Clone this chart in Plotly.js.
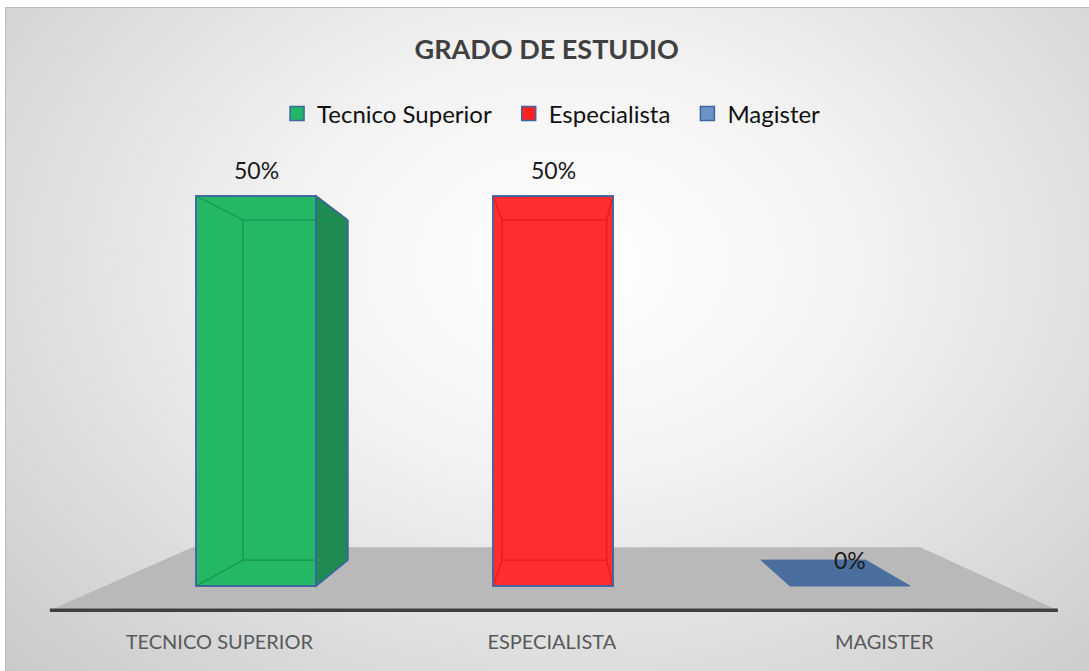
<!DOCTYPE html>
<html>
<head>
<meta charset="utf-8">
<script src="https://cdn.plot.ly/plotly-3.0.1.min.js"></script>
<style>
  html, body { margin:0; padding:0; background:#ffffff; width:1089px; height:671px; overflow:hidden; }
  #bg { position:absolute; left:5px; top:7px; width:1090px; height:670px;
        border-left:1px solid #bdbdbd; border-top:1px solid #bdbdbd;
        background: radial-gradient(ellipse farthest-corner at 52% 38%, #ffffff 0%, #f3f3f3 35%, #c9c9c9 100%); }
  #chart { position:absolute; left:0; top:0; width:1089px; height:671px; }
</style>
</head>
<body>
<div id="bg"></div>
<div id="chart"></div>
<script>
// ---- data ----
const categories = ['TECNICO SUPERIOR', 'ESPECIALISTA', 'MAGISTER'];
const seriesNames = ['Tecnico Superior', 'Especialista', 'Magister'];
const values = [0.5, 0.5, 0];
const valueLabels = ['50%', '50%', '0%'];

// ---- styles ----
const frontColors = ['#23b766', '#ff2e2e', '#4a6f9e'];
const sideColors  = ['#1f8a52', '#d81c1c', '#3f5f88'];
const innerColors = ['#179650', '#e81a1a', '#3f5f88'];
const legendColors = ['#22b565', '#ff2020', '#6a93c8'];
const edgeColor = '#3f64a0';
const FONT = 'Lato, "Open Sans", sans-serif';

// 3D projection settings (in data coordinates)
const vp = {x: 1.034, y: 0.2595};   // vanishing point
const sBar = 0.872;                 // bar depth scale
const sFloor = 0.722;               // floor depth scale
const hw = 0.202;                   // half bar width
const floorFront = {x0: -0.694, x1: 2.700, y: -0.031};

function back(p, s) { return {x: vp.x + s * (p.x - vp.x), y: vp.y + s * (p.y - vp.y)}; }
function path(pts) { return 'M ' + pts.map(p => p.x + ',' + p.y).join(' L ') + ' Z'; }
function seg(a, b) { return 'M ' + a.x + ',' + a.y + ' L ' + b.x + ',' + b.y; }

// category labels sit on the front edge of the floor (projected forward)
const kFront = (vp.y - floorFront.y) / vp.y;
const tickPositions = categories.map((_, i) => vp.x + kFront * (i - vp.x));

const shapes = [];
// floor
const fL = {x: floorFront.x0, y: floorFront.y}, fR = {x: floorFront.x1, y: floorFront.y};
shapes.push({type:'path', xref:'x', yref:'y', layer:'below',
  path: path([fL, fR, back(fR, sFloor), back(fL, sFloor)]),
  fillcolor:'#b9b9b9', line:{width:0}});
shapes.push({type:'line', xref:'x', yref:'y', layer:'below',
  x0: fL.x, x1: fR.x, y0: fL.y, y1: fL.y, line:{color:'#404040', width:3.5}});

const traces = [];
const annotations = [];
categories.forEach((c, i) => {
  const v = values[i];
  const FL = {x: i - hw, y: 0}, FR = {x: i + hw, y: 0};
  const TL = {x: i - hw, y: v}, TR = {x: i + hw, y: v};
  const bFL = back(FL, sBar), bFR = back(FR, sBar), bTL = back(TL, sBar), bTR = back(TR, sBar);

  traces.push({
    type:'bar', name: seriesNames[i], x: [i], y: [v], width: 2 * hw,
    marker: {color: frontColors[i], line: {color: edgeColor, width: v > 0 ? 1.5 : 0}},
    hoverinfo:'skip', showlegend: false
  });
  // legend proxy (en space adds the gap between legend entries)
  traces.push({
    type:'scatter', mode:'markers', name: seriesNames[i] + '\u2002', x: [null], y: [null],
    marker: {symbol:'square', size: 14, color: legendColors[i], line: {color: edgeColor, width: 1.5}},
    showlegend: true, hoverinfo:'skip'
  });

  if (v > 0) {
    if (FR.x < vp.x) {
      shapes.push({type:'path', xref:'x', yref:'y', layer:'above',
        path: path([FR, TR, bTR, bFR]), fillcolor: sideColors[i], line:{color: edgeColor, width:1.5}});
    }
    if (FL.x > vp.x) {
      shapes.push({type:'path', xref:'x', yref:'y', layer:'above',
        path: path([FL, TL, bTL, bFL]), fillcolor: sideColors[i], line:{color: edgeColor, width:1.5}});
    }
    const inner = [seg(bTL, bTR), seg(bFL, bFR), seg(bTL, bFL), seg(bTR, bFR),
                   seg(TL, bTL), seg(TR, bTR), seg(FL, bFL), seg(FR, bFR)].join(' ');
    shapes.push({type:'path', xref:'x', yref:'y', layer:'above',
      path: inner, line:{color: innerColors[i], width:1.3}});
    shapes.push({type:'path', xref:'x', yref:'y', layer:'above',
      path: path([FL, FR, TR, TL]), line:{color: edgeColor, width:1.5}});
    if (FR.x < vp.x) {
      shapes.push({type:'path', xref:'x', yref:'y', layer:'above',
        path: path([FR, TR, bTR, bFR]), line:{color: edgeColor, width:1.5}});
    }
  }
  if (v < vp.y) {
    shapes.push({type:'path', xref:'x', yref:'y', layer:'above',
      path: path([TL, TR, bTR, bTL]), fillcolor: frontColors[i], line:{color: frontColors[i], width:1}});
  }
  annotations.push({x: i, y: v, xref:'x', yref:'y', text: valueLabels[i], showarrow:false,
    yshift: 26, font:{family: FONT, size: 23, color:'#1a1a1a'}});
});

const layout = {
  width: 1089, height: 671,
  margin: {l: 46, r: 27, t: 150, b: 55},
  paper_bgcolor: 'rgba(0,0,0,0)', plot_bgcolor: 'rgba(0,0,0,0)',
  title: {text: '<b>GRADO DE ESTUDIO</b>', x: 0.502, xref:'container', y: 0.9255, yref:'container',
          xanchor:'center', yanchor:'middle', font:{family: FONT, size: 27, color:'#404040'}},
  showlegend: true,
  legend: {orientation:'h', x: 0.503, xanchor:'center', y: 1.0773, yanchor:'middle',
           font:{family: FONT, size: 24, color:'#111111'}, bgcolor:'rgba(0,0,0,0)', traceorder:'normal'},
  barmode: 'overlay',
  xaxis: {range: [-0.7071, 2.7138], tickvals: tickPositions, ticktext: categories,
          showgrid:false, zeroline:false, showline:false, ticks:'', ticklabelstandoff: 12,
          tickfont:{family: FONT, size: 20, color:'#595959'}, fixedrange:true},
  yaxis: {range: [-0.03846, 0.559], visible:false, showgrid:false, zeroline:false, fixedrange:true},
  shapes: shapes,
  annotations: annotations
};

Plotly.newPlot('chart', traces, layout, {displayModeBar:false, staticPlot:true});
</script>
</body>
</html>
